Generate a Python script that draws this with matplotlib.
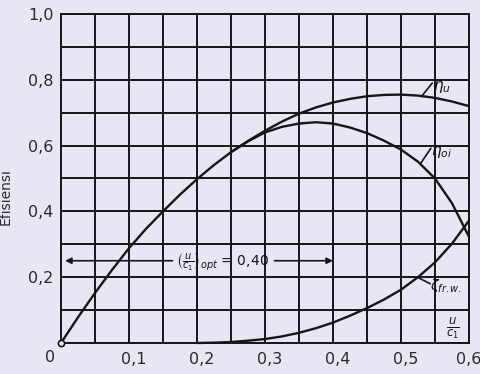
import matplotlib

matplotlib.use("Agg")
import matplotlib.pyplot as plt
import matplotlib.transforms as mtransforms
import numpy as np

# blade speed ratio u/c1 against efficiency
ratio_u = [0.0, 0.025, 0.05, 0.075, 0.1, 0.125, 0.15, 0.175, 0.2, 0.225, 0.25, 0.275,
           0.3, 0.325, 0.35, 0.375, 0.4, 0.425, 0.45, 0.475, 0.5, 0.525, 0.55, 0.575, 0.6]
eta_u = [0.0, 0.078, 0.152, 0.222, 0.288, 0.347, 0.400, 0.451, 0.498, 0.541, 0.580, 0.614,
         0.645, 0.673, 0.697, 0.716, 0.731, 0.742, 0.750, 0.754, 0.755, 0.752, 0.745, 0.734, 0.720]

ratio_oi = [0.25, 0.275, 0.3, 0.325, 0.35, 0.375, 0.4, 0.425, 0.45, 0.475, 0.5, 0.525,
            0.55, 0.575, 0.6]
eta_oi = [0.580, 0.613, 0.640, 0.657, 0.667, 0.671, 0.667, 0.655, 0.638, 0.615, 0.588, 0.551,
          0.500, 0.425, 0.323]

ratio_fw = [0.2, 0.225, 0.25, 0.275, 0.3, 0.325, 0.35, 0.375, 0.4, 0.425, 0.45, 0.475,
            0.5, 0.525, 0.55, 0.575, 0.6]
zeta_fw = [0.0, 0.001, 0.003, 0.007, 0.012, 0.020, 0.031, 0.045, 0.062, 0.083, 0.106, 0.132,
           0.162, 0.200, 0.245, 0.302, 0.372]

u_opt = 0.40
x_labels = {0.1: "0,1", 0.2: "0,2", 0.3: "0,3", 0.4: "0,4", 0.5: "0,5", 0.6: "0,6"}
y_labels = {0.2: "0,2", 0.4: "0,4", 0.6: "0,6", 0.8: "0,8", 1.0: "1,0"}

PAPER = "#e6e6f4"
INK = "#161616"

fig = plt.figure(figsize=(4.81, 3.74), dpi=100, facecolor=PAPER)
ax = fig.add_axes([0.1268, 0.0829, 0.8482, 0.8797])
ax.set_facecolor(PAPER)
ax.set_xlim(0.0, 0.6)
ax.set_ylim(0.0, 1.0)

# grid: every 0.05 across, every 0.1 up; labels only on the round values
x_grid = np.round(np.arange(0.0, 0.6001, 0.05), 2)
y_grid = np.round(np.arange(0.0, 1.0001, 0.1), 2)
ax.set_xticks(x_grid)
ax.set_xticklabels([x_labels.get(v, "") for v in x_grid])
ax.set_yticks(y_grid)
ax.set_yticklabels([y_labels.get(v, "") for v in y_grid])
ax.grid(True, color=INK, linewidth=1.4)
ax.set_axisbelow(True)
ax.tick_params(length=0, labelsize=11.5, colors="#2a2a2a")
ax.tick_params(axis="x", pad=6.5)
ax.tick_params(axis="y", pad=5.5)
# labels sit a little right of their grid line; the last one stays inside the frame
shift = mtransforms.ScaledTranslation(0.05, 0, fig.dpi_scale_trans)
for lab in ax.get_xticklabels()[:-1]:
    lab.set_transform(lab.get_transform() + shift)
for spine in ax.spines.values():
    spine.set_color(INK)
    spine.set_linewidth(1.4)

ax.text(-0.016, -0.043, "0", ha="center", va="center", fontsize=11.5, color="#2a2a2a",
        clip_on=False)
ax.set_ylabel("Efisiensi", fontsize=10, color="#2a2a2a")
ax.yaxis.set_label_coords(-0.118, 0.444)

line_kw = dict(color=INK, linewidth=1.7, solid_capstyle="round", clip_on=False)
ax.plot(ratio_u, eta_u, **line_kw)
ax.plot(ratio_oi, eta_oi, **line_kw)
ax.plot(ratio_fw, zeta_fw, **line_kw)
ax.plot([0.0], [0.0], marker="o", markersize=4.5, markerfacecolor=PAPER,
        markeredgecolor=INK, markeredgewidth=1.2, clip_on=False, zorder=5)

# curve names on short leader lines
leader = dict(arrowstyle="-", color=INK, linewidth=1.2, shrinkA=0, shrinkB=0)
ax.annotate("", xy=(0.530, 0.749), xytext=(0.546, 0.790), arrowprops=leader)
ax.text(0.547, 0.778, r"$\eta_u$", ha="left", va="center", fontsize=11, color=INK)
ax.annotate("", xy=(0.529, 0.546), xytext=(0.544, 0.592), arrowprops=leader)
ax.text(0.544, 0.580, r"$\eta_{oi}$", ha="left", va="center", fontsize=11, color=INK)
ax.annotate("", xy=(0.526, 0.198), xytext=(0.543, 0.180), arrowprops=leader)
ax.text(0.543, 0.172, r"$\zeta_{fr.w.}$", ha="left", va="center", fontsize=10, color=INK)
ax.text(0.577, 0.046, r"$\frac{u}{c_1}$", ha="center", va="center", fontsize=12, color=INK)

# optimum speed ratio marker line
arrow_y = 0.25
arrow = dict(arrowstyle="-|>", color=INK, linewidth=1.2, mutation_scale=9,
             shrinkA=0, shrinkB=0)
ax.annotate("", xy=(0.006, arrow_y), xytext=(0.164, arrow_y), arrowprops=arrow)
ax.annotate("", xy=(u_opt, arrow_y), xytext=(0.314, arrow_y), arrowprops=arrow)
ax.text(0.238, arrow_y - 0.008,
        r"$\left(\frac{u}{c_1}\right)_{opt}$" + " = " + f"{u_opt:.2f}".replace(".", ","),
        ha="center", va="center", fontsize=10, color=INK)

fig.savefig("out.png", dpi=100, facecolor=PAPER)
